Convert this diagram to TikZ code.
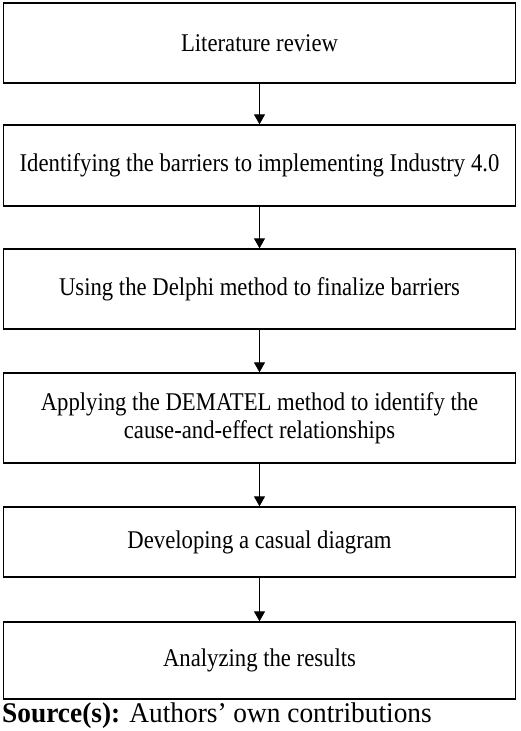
\documentclass[tikz,border=0pt]{standalone}
\usepackage{fontspec}
\setmainfont{Liberation Serif}
\newfontfamily\boxfont{Liberation Serif}[FakeStretch=0.89]
\newfontfamily\srcfont{Liberation Serif}[FakeStretch=0.96]
\usetikzlibrary{arrows.meta}
\begin{document}
\begin{tikzpicture}[x=1pt,y=-1pt,
  stepbox/.style={draw, line width=1.4pt, minimum width=512pt, inner sep=0pt,
    align=center, font=\boxfont\fontsize{25.5}{28}\selectfont},
  flow/.style={-{Triangle[length=10pt,width=11pt]}, line width=1.3pt}]
\useasboundingbox (0,0) rectangle (520,731);
\node[stepbox, minimum height=80pt] (s1) at (259.5,43) {Literature review};
\node[stepbox, minimum height=81pt] (s2) at (259.5,165.5) {Identifying the barriers to implementing Industry 4.0};
\node[stepbox, minimum height=80pt] (s3) at (259.5,289) {Using the Delphi method to finalize barriers};
\node[stepbox, minimum height=90pt] (s4) at (259.5,418) {Applying the DEMATEL method to identify the\\cause-and-effect relationships};
\node[stepbox, minimum height=70pt] (s5) at (259.5,542) {Developing a casual diagram};
\node[stepbox, minimum height=77pt] (s6) at (259.5,660.5) {Analyzing the results};
\draw[flow] (s1) -- (s2);
\draw[flow] (s2) -- (s3);
\draw[flow] (s3) -- (s4);
\draw[flow] (s4) -- (s5);
\draw[flow] (s5) -- (s6);
\node[anchor=base west, inner sep=0pt, font=\srcfont\fontsize{28.5}{32}\selectfont] (src) at (2,722)
  {\textbf{Source(s):} Authors’ own contributions};
\end{tikzpicture}
\end{document}
